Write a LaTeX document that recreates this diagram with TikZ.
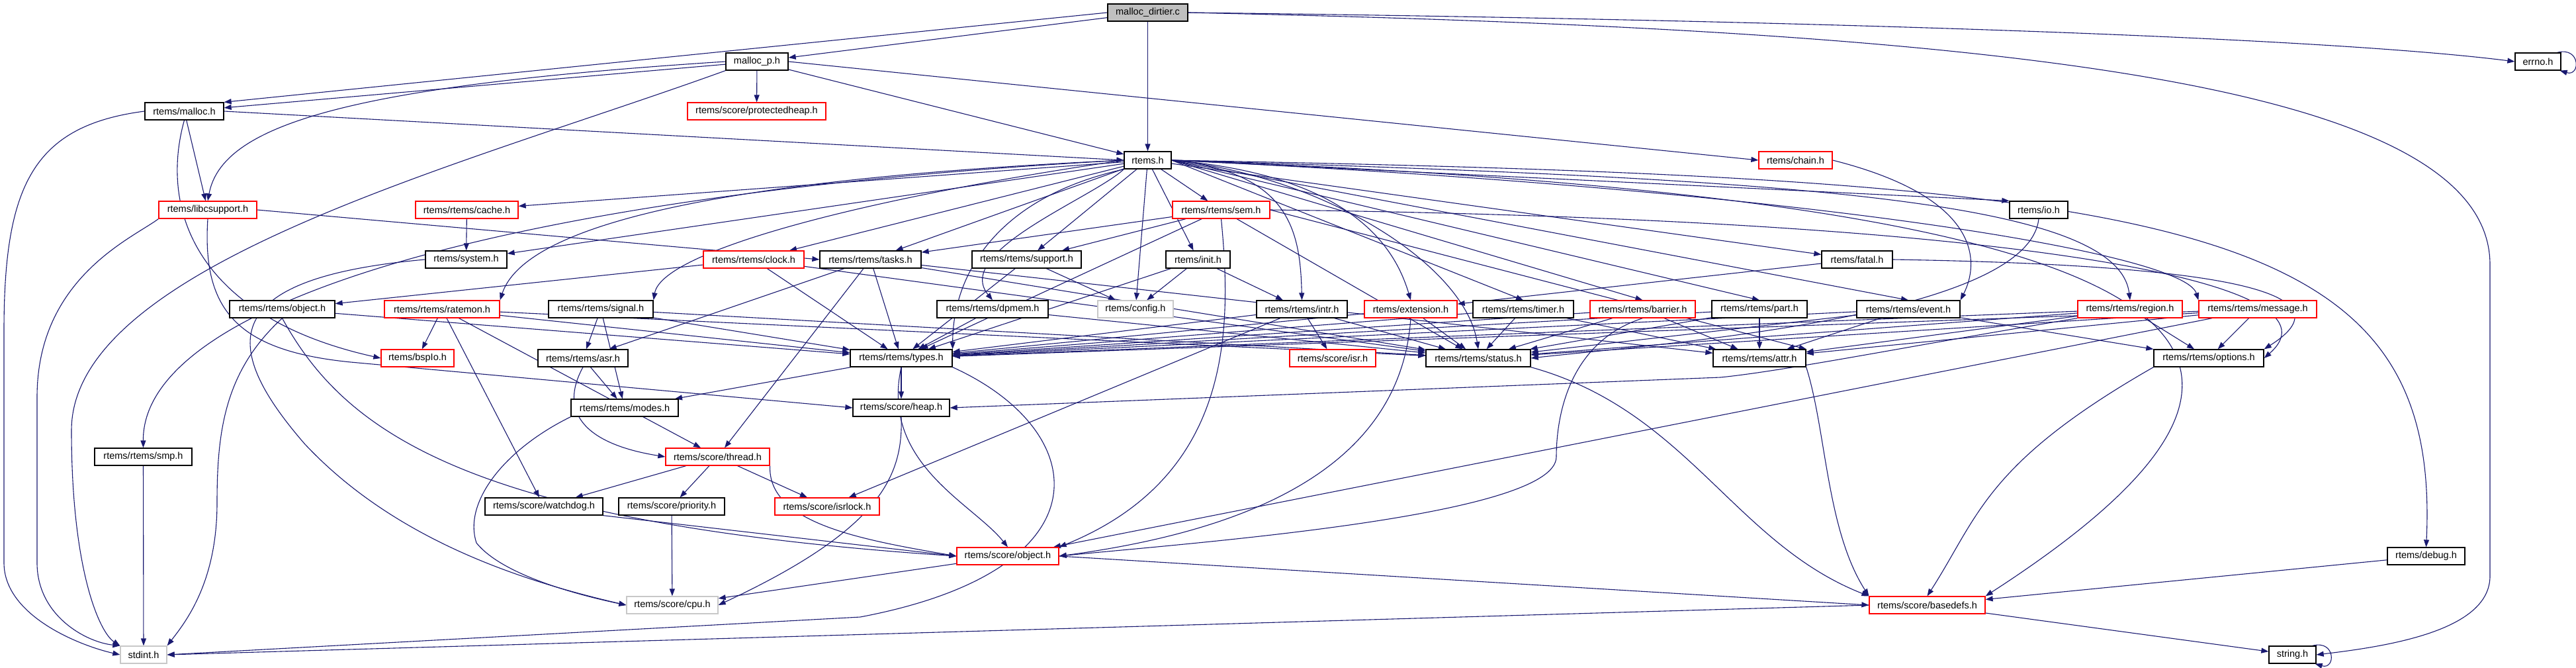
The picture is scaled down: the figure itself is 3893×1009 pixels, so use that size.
\documentclass[tikz,border=0pt]{standalone}
\usepackage{fontspec}
\setmainfont{Liberation Sans}
\usetikzlibrary{arrows.meta}
\definecolor{edgeblue}{HTML}{191970}
\definecolor{rootgray}{HTML}{BFBFBF}
\definecolor{nfgray}{HTML}{C8C8C8}
\pgfdeclarelayer{bg}
\pgfsetlayers{bg,main}
\newcommand\nodefont{\fontsize{14.5}{16}\selectfont}
\tikzset{
  nd/.style={draw=black, fill=white, line width=1.3pt, minimum height=26pt, inner sep=0pt, font=\nodefont},
  rednd/.style={nd, draw=red},
  graynd/.style={nd, draw=nfgray},
  rootnd/.style={nd, fill=rootgray},
  edge/.style={draw=edgeblue, line width=1.1pt, -{Triangle[length=11pt,width=8pt]}},
}
\begin{document}
\begin{tikzpicture}[x=1pt,y=-1pt]
\useasboundingbox (0,0) rectangle (3893,1009);
% ---------------- nodes ----------------
\node[rootnd, minimum width=121pt] (dirtier) at (1734.5,19) {malloc\_dirtier.c};
\node[nd, minimum width=94pt] (mallocp) at (1144,93) {malloc\_p.h};
\node[nd, minimum width=69pt] (errno) at (3835.5,93) {errno.h};
\node[nd, minimum width=119pt] (malloc) at (278.5,168) {rtems/malloc.h};
\node[rednd, minimum width=209pt] (protheap) at (1143.5,168) {rtems/score/protectedheap.h};
\node[nd, minimum width=71pt] (rtemsh) at (1734.5,242) {rtems.h};
\node[rednd, minimum width=111pt] (chain) at (2713.5,242) {rtems/chain.h};
\node[rednd, minimum width=148pt] (libcsup) at (314,317) {rtems/libcsupport.h};
\node[rednd, minimum width=155pt] (cache) at (705.5,317) {rtems/rtems/cache.h};
\node[rednd, minimum width=147pt] (sem) at (1845.5,317) {rtems/rtems/sem.h};
\node[nd, minimum width=88pt] (io) at (3081,317) {rtems/io.h};
\node[nd, minimum width=123pt] (system) at (704.5,392) {rtems/system.h};
\node[rednd, minimum width=152pt] (clock) at (1139,392) {rtems/rtems/clock.h};
\node[nd, minimum width=153pt] (tasks) at (1315.5,392) {rtems/rtems/tasks.h};
\node[nd, minimum width=165pt] (support) at (1551.5,392) {rtems/rtems/support.h};
\node[nd, minimum width=97pt] (init) at (1810.5,392) {rtems/init.h};
\node[nd, minimum width=107pt] (fatal) at (2806.5,392) {rtems/fatal.h};
\node[nd, minimum width=159pt] (rrobject) at (426.5,467) {rtems/rtems/object.h};
\node[rednd, minimum width=174pt] (ratemon) at (668,467) {rtems/rtems/ratemon.h};
\node[nd, minimum width=158pt] (signal) at (908,467) {rtems/rtems/signal.h};
\node[nd, minimum width=168pt] (dpmem) at (1500,467) {rtems/rtems/dpmem.h};
\node[graynd, minimum width=114pt] (config) at (1716,467) {rtems/config.h};
\node[nd, minimum width=137pt] (intr) at (1967.5,467) {rtems/rtems/intr.h};
\node[rednd, minimum width=140pt] (extension) at (2132,467) {rtems/extension.h};
\node[nd, minimum width=152pt] (timer) at (2302,467) {rtems/rtems/timer.h};
\node[rednd, minimum width=159pt] (barrier) at (2482.5,467) {rtems/rtems/barrier.h};
\node[nd, minimum width=144pt] (part) at (2659,467) {rtems/rtems/part.h};
\node[nd, minimum width=156pt] (event) at (2884,467) {rtems/rtems/event.h};
\node[rednd, minimum width=158pt] (region) at (3219,467) {rtems/rtems/region.h};
\node[rednd, minimum width=178pt] (message) at (3412,467) {rtems/rtems/message.h};
\node[rednd, minimum width=110pt] (bsplo) at (631,541) {rtems/bspIo.h};
\node[nd, minimum width=136pt] (asr) at (881,541) {rtems/rtems/asr.h};
\node[nd, minimum width=154pt] (types) at (1362,541) {rtems/rtems/types.h};
\node[rednd, minimum width=130pt] (isr) at (2014,541) {rtems/score/isr.h};
\node[nd, minimum width=158pt] (status) at (2234,541) {rtems/rtems/status.h};
\node[nd, minimum width=140pt] (attr) at (2659,541) {rtems/rtems/attr.h};
\node[nd, minimum width=166pt] (options) at (3338,541) {rtems/rtems/options.h};
\node[nd, minimum width=162pt] (modes) at (944,616) {rtems/rtems/modes.h};
\node[nd, minimum width=146pt] (heap) at (1362,616) {rtems/score/heap.h};
\node[nd, minimum width=147pt] (smp) at (216.5,690) {rtems/rtems/smp.h};
\node[rednd, minimum width=157pt] (thread) at (1084.5,690) {rtems/score/thread.h};
\node[nd, minimum width=178pt] (watchdog) at (822,765) {rtems/score/watchdog.h};
\node[nd, minimum width=160pt] (priority) at (1015,765) {rtems/score/priority.h};
\node[rednd, minimum width=158pt] (isrlock) at (1250,765) {rtems/score/isrlock.h};
\node[rednd, minimum width=154pt] (sobject) at (1523,840) {rtems/score/object.h};
\node[nd, minimum width=117pt] (debug) at (3666.5,840) {rtems/debug.h};
\node[graynd, minimum width=138pt] (cpu) at (1016,914) {rtems/score/cpu.h};
\node[rednd, minimum width=175pt] (basedefs) at (2912.5,914) {rtems/score/basedefs.h};
\node[graynd, minimum width=70pt] (stdint) at (217,989) {stdint.h};
\node[nd, minimum width=71pt] (string) at (3464.5,989) {string.h};
% ---------------- edges ----------------
\begin{pgfonlayer}{bg}
% malloc_dirtier.c
\draw[edge] (dirtier) -- (mallocp);
\draw[edge] (dirtier.west) -- (malloc.north east);
\draw[edge] (dirtier) -- (rtemsh);
\draw[edge] (dirtier.east) .. controls (2700,30) and (3500,55) .. (errno.west);
\draw[edge] (dirtier.east) .. controls (3000,45) and (3763,120) .. (3763,400) -- (3763,870) .. controls (3763,950) and (3620,975) .. (string.east);
% self loops
\draw[edge] ([xshift=-6pt]errno.north east) .. controls (3900,70) and (3900,116) .. ([xshift=-2pt]errno.south east);
\draw[edge] ([xshift=-6pt]string.north east) .. controls (3530,966) and (3530,1012) .. ([xshift=-2pt]string.south east);
% malloc_p.h
\draw[edge] (mallocp) -- (malloc);
\draw[edge] (mallocp.west) .. controls (520,130) and (335,190) .. (libcsup.north);
\draw[edge] (mallocp) -- (protheap);
\draw[edge] (mallocp) -- (rtemsh);
\draw[edge] (mallocp.east) -- (chain.west);
\draw[edge] (mallocp.south west) .. controls (700,250) and (108,400) .. (108,650) .. controls (108,860) and (150,955) .. (stdint.north west);
% rtems/malloc.h
\draw[edge] (malloc.east) -- (rtemsh.west);
\draw[edge] (malloc) -- (libcsup);
\draw[edge] (malloc.south) .. controls (240,320) and (300,480) .. (bsplo.west);
\draw[edge] (malloc.west) .. controls (50,190) and (6,280) .. (6,500) -- (6,850) .. controls (6,930) and (120,975) .. (stdint.west);
% libcsupport
\draw[edge] (libcsup.east) -- (tasks.west);
\draw[edge] (libcsup.south) .. controls (305,470) and (360,530) .. (530,547) -- (heap.west);
\draw[edge] (libcsup.south west) .. controls (200,360) and (56,420) .. (56,600) -- (56,850) .. controls (56,930) and (130,970) .. (stdint.north west);
% rtems.h
\draw[edge] (rtemsh) -- (cache);
\draw[edge] (rtemsh) -- (sem);
\draw[edge] (rtemsh.east) -- (io.north west);
\draw[edge] (rtemsh) -- (system);
\draw[edge] (rtemsh) -- (clock);
\draw[edge] (rtemsh) -- (tasks);
\draw[edge] (rtemsh) -- (support);
\draw[edge] (rtemsh) -- (init);
\draw[edge] (rtemsh) -- (fatal);
\draw[edge] (rtemsh.east) .. controls (3300,270) and (3690,330) .. (debug.north);
\draw[edge] (rtemsh.west) .. controls (1200,265) and (800,320) .. (ratemon.north east);
\draw[edge] (rtemsh.west) .. controls (1300,300) and (1000,380) .. (signal.north east);
\draw[edge] (rtemsh.south west) .. controls (1650,300) and (1440,380) .. (dpmem.north);
\draw[edge] (rtemsh) -- (config);
\draw[edge] (rtemsh.east) .. controls (1950,260) and (1965,350) .. (intr.north);
\draw[edge] (rtemsh.east) .. controls (2050,265) and (2110,380) .. (extension.north);
\draw[edge] (rtemsh.east) -- (timer.north);
\draw[edge] (rtemsh.east) -- (barrier.north);
\draw[edge] (rtemsh.east) -- (part.north);
\draw[edge] (rtemsh.east) -- (event.north);
\draw[edge] (rtemsh.east) .. controls (2700,270) and (3200,300) .. (region.north);
\draw[edge] (rtemsh.east) .. controls (2700,285) and (3300,380) .. (message.north west);
\draw[edge] (rtemsh.south west) .. controls (1500,300) and (1440,420) .. (types.north east);
\draw[edge] (rtemsh.east) .. controls (2000,265) and (2214,400) .. (status.north);
\draw[edge] (rtemsh.west) .. controls (800,290) and (215,450) .. (smp.north);
\draw[edge] (rtemsh.east) .. controls (3350,300) and (3590,520) .. (basedefs.north east);
% chain
\draw[edge] (chain.east) .. controls (3000,300) and (2990,400) .. (event.north east);
% cache
\draw[edge] (cache) -- (system);
% sem
\draw[edge] (sem) -- (tasks);
\draw[edge] (sem) -- (support);
\draw[edge] (sem) -- (types);
\draw[edge] (sem) -- (status);
\draw[edge] (sem.east) -- (attr.north east);
\draw[edge] (sem.east) .. controls (3000,330) and (3560,420) .. (options.east);
\draw[edge] (sem.south) .. controls (1862,500) and (1862,720) .. (sobject.north east);
% io
\draw[edge] (io.south) .. controls (3065,480) and (2500,520) .. (status.east);
% system
\draw[edge] (system.west) .. controls (330,420) and (330,520) .. (460,670) .. controls (600,820) and (800,880) .. (cpu.west);
% clock
\draw[edge] (clock) -- (rrobject);
\draw[edge] (clock) -- (types);
\draw[edge] (clock) -- (status);
% tasks
\draw[edge] (tasks) -- (types);
\draw[edge] (tasks) -- (status);
\draw[edge] (tasks) -- (attr);
\draw[edge] (tasks) -- (asr);
\draw[edge] (tasks) -- (thread);
% support
\draw[edge] (support) -- (types);
\draw[edge] (support) -- (config);
% init
\draw[edge] (init) -- (config);
\draw[edge] (init) -- (intr);
\draw[edge] (init) -- (types);
% fatal
\draw[edge] (fatal) -- (extension);
\draw[edge] (fatal.east) .. controls (3350,400) and (3560,440) .. (options.north east);
% rtems/rtems/object.h
\draw[edge] (rrobject) -- (types);
\draw[edge] (rrobject.south) .. controls (520,650) and (700,790) .. (sobject.west);
\draw[edge] (rrobject.south) .. controls (340,560) and (328,650) .. (328,760) .. controls (328,880) and (280,940) .. (stdint.north east);
% ratemon
\draw[edge] (ratemon) -- (bsplo);
\draw[edge] (ratemon) -- (types);
\draw[edge] (ratemon) -- (status);
\draw[edge] (ratemon) -- (watchdog);
\draw[edge] (ratemon) -- (thread);
% signal
\draw[edge] (signal) -- (asr);
\draw[edge] (signal) -- (modes);
\draw[edge] (signal) -- (types);
\draw[edge] (signal) -- (status);
% dpmem
\draw[edge] (dpmem) -- (types);
\draw[edge] (dpmem) -- (status);
% intr
\draw[edge] (intr) -- (types);
\draw[edge] (intr) -- (status);
\draw[edge] (intr) -- (isr);
\draw[edge] (intr) -- (isrlock);
% extension
\draw[edge] (extension) -- (types);
\draw[edge] (extension) -- (status);
\draw[edge] (extension.south) .. controls (2117,700) and (1900,800) .. (sobject.east);
% timer
\draw[edge] (timer) -- (types);
\draw[edge] (timer) -- (status);
\draw[edge] (timer) -- (attr);
% barrier
\draw[edge] (barrier) -- (types);
\draw[edge] (barrier) -- (status);
\draw[edge] (barrier) -- (attr);
\draw[edge] (barrier.south) .. controls (2360,520) and (2352,650) .. (2352,690) .. controls (2352,780) and (1800,820) .. (sobject.east);
% part
\draw[edge] (part) -- (types);
\draw[edge] (part) -- (status);
\draw[edge] (part) -- (attr);
% event
\draw[edge] (event) -- (types);
\draw[edge] (event) -- (status);
\draw[edge] (event) -- (attr);
\draw[edge] (event) -- (options);
% region
\draw[edge] (region) -- (types);
\draw[edge] (region) -- (status);
\draw[edge] (region) -- (attr);
\draw[edge] (region) -- (options);
\draw[edge] (region.south west) .. controls (2900,520) and (2700,560) .. (2600,570) -- (heap.east);
% message
\draw[edge] (message) -- (types);
\draw[edge] (message) -- (status);
\draw[edge] (message) -- (attr);
\draw[edge] (message) -- (options);
\draw[edge] (message) -- (sobject);
% types
\draw[edge] (types) -- (modes);
\draw[edge] (types) -- (heap);
\draw[edge] (types.south) .. controls (1330,700) and (1470,760) .. (sobject.north);
\draw[edge] (types.south east) .. controls (1650,650) and (1680,860) .. (1300,932) -- (stdint.east);
% heap
\draw[edge] (heap.south) .. controls (1365,720) and (1330,800) .. (cpu.east);
% modes
\draw[edge] (modes.south west) .. controls (760,680) and (700,760) .. (720,820) .. controls (760,870) and (880,900) .. (cpu.west);
% asr
\draw[edge] (asr) -- (modes);
\draw[edge] (asr.south) .. controls (845,620) and (880,670) .. (thread.west);
% thread
\draw[edge] (thread) -- (watchdog);
\draw[edge] (thread) -- (priority);
\draw[edge] (thread) -- (isrlock);
\draw[edge] (thread.south east) .. controls (1160,790) and (1300,815) .. (sobject.west);
% watchdog, priority
\draw[edge] (watchdog.south east) -- (sobject.west);
\draw[edge] (priority) -- (cpu);
% score/object.h
\draw[edge] (sobject) -- (cpu);
\draw[edge] (sobject.east) -- (basedefs.west);
% to basedefs
\draw[edge] (attr.south east) .. controls (2760,650) and (2760,800) .. (basedefs.north west);
\draw[edge] (options.south west) .. controls (3000,700) and (2990,780) .. (basedefs.north);
\draw[edge] (status.south east) .. controls (2550,620) and (2620,820) .. (basedefs.north west);
\draw[edge] (debug) -- (basedefs);
% from basedefs
\draw[edge] (basedefs) -- (string);
\draw[edge] (basedefs.west) -- (stdint.east);
% smp
\draw[edge] (smp) -- (stdint);
\end{pgfonlayer}
\end{tikzpicture}
\end{document}
